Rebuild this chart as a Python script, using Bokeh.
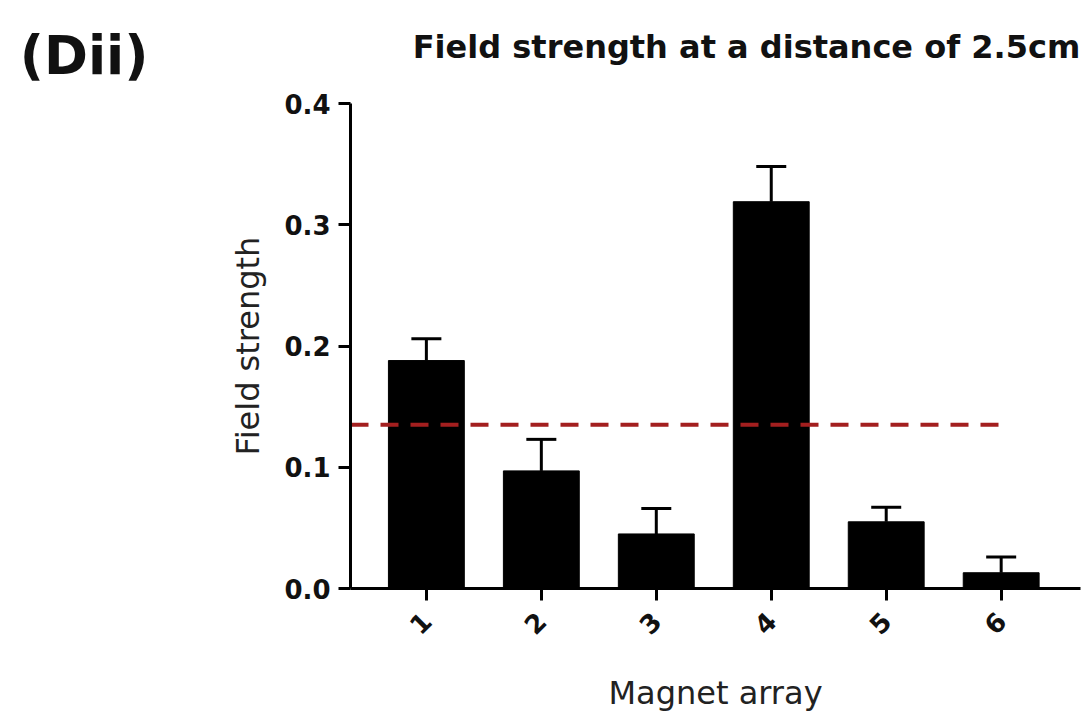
import math
from bokeh.plotting import figure
from bokeh.layouts import column
from bokeh.models import (ColumnDataSource, Range1d, FixedTicker, Whisker, TeeHead)
from bokeh.core.properties import value
from bokeh.embed import file_html
from bokeh.resources import INLINE

# ---- data ----
magnet_arrays = [1, 2, 3, 4, 5, 6]
tick_labels = ["1", "2", "3", "4", "5", "6"]
field_strength = [0.188, 0.097, 0.045, 0.319, 0.055, 0.013]
field_error = [0.018, 0.026, 0.021, 0.029, 0.012, 0.013]
threshold = 0.135
panel_label = "(Dii)"
title_text = "Field strength at a distance of 2.5cm"
x_label = "Magnet array"
y_label = "Field strength"
y_ticks = [0.0, 0.1, 0.2, 0.3, 0.4]

upper = [m + e for m, e in zip(field_strength, field_error)]
src = ColumnDataSource(dict(x=magnet_arrays, top=field_strength,
                            upper=upper, lower=field_strength))

FONT = "DejaVu Sans"
W = 1090
HEADER_H = 88
FRAME_LEFT = 350
FRAME_RIGHT = 1080

# ---- header (its frame is aligned with the chart's frame) ----
hdr = figure(width=W, height=HEADER_H, output_backend="svg", toolbar_location=None,
             x_range=Range1d(FRAME_LEFT, FRAME_RIGHT), y_range=Range1d(HEADER_H, 0),
             min_border=0, min_border_left=FRAME_LEFT, min_border_right=W - FRAME_RIGHT)
hdr.grid.visible = False
hdr.outline_line_color = None
hdr.xaxis.visible = False
hy = hdr.yaxis[0]
hy.ticker = FixedTicker(ticks=[55])
hy.major_label_overrides = {55: panel_label}
hy.axis_line_color = None
hy.major_tick_line_color = None
hy.minor_tick_line_color = None
hy.major_tick_out = 0
hy.major_tick_in = 0
hy.major_label_standoff = 202
hy.major_label_text_font = FONT
hy.major_label_text_font_style = "bold"
hy.major_label_text_font_size = "53px"
hy.major_label_text_color = "#111111"
hdr.text(x=[746], y=[46], text=[title_text], text_font=value(FONT),
         text_font_style="bold", text_font_size="32px", text_color="#111111",
         text_baseline="alphabetic", text_align="center")

# ---- main chart ----
p = figure(width=W, height=718 - HEADER_H, output_backend="svg", toolbar_location=None,
           x_range=Range1d(0.34, 6.69), y_range=Range1d(0, 0.4),
           min_border_left=FRAME_LEFT, min_border_right=W - FRAME_RIGHT,
           min_border_top=103 - HEADER_H, min_border_bottom=130)
p.outline_line_color = None
p.grid.visible = False

p.vbar(x="x", top="top", width=0.66, source=src, fill_color="black",
       line_color="black", line_width=1)

w = Whisker(base="x", upper="upper", lower="lower", source=src,
            line_color="black", line_width=3,
            upper_head=TeeHead(size=30, line_width=3, line_color="black"),
            lower_head=None)
p.add_layout(w)

p.line(x=[p.x_range.start, magnet_arrays[-1] + 0.07], y=[threshold, threshold],
       line_color="#a31f1f", line_width=4, line_dash="18 12")

for ax in (p.xaxis[0], p.yaxis[0]):
    ax.axis_line_width = 3
    ax.axis_line_color = "black"
    ax.major_tick_line_width = 3
    ax.major_tick_line_color = "black"
    ax.major_tick_out = 12
    ax.major_tick_in = 0
    ax.minor_tick_line_color = None
    ax.major_label_text_font = FONT
    ax.major_label_text_font_style = "bold"
    ax.major_label_text_font_size = "26px"
    ax.major_label_text_color = "#111111"
    ax.axis_label_text_font = FONT
    ax.axis_label_text_font_style = "normal"
    ax.axis_label_text_font_size = "32px"
    ax.axis_label_text_color = "#222222"

p.yaxis.ticker = FixedTicker(ticks=y_ticks)
p.yaxis.major_label_overrides = {t: f"{t:.1f}" for t in y_ticks}
p.yaxis.major_label_standoff = 8
p.yaxis.axis_label = y_label
p.yaxis.axis_label_standoff = 14

p.xaxis.ticker = FixedTicker(ticks=magnet_arrays)
p.xaxis.major_label_overrides = {m: t for m, t in zip(magnet_arrays, tick_labels)}
p.xaxis.major_label_orientation = math.pi / 4
p.xaxis.major_label_standoff = 16
p.xaxis.axis_label = x_label
p.xaxis.axis_label_standoff = 28

layout = column(hdr, p, spacing=0)
open("out.html", "w").write(file_html(layout, INLINE))
